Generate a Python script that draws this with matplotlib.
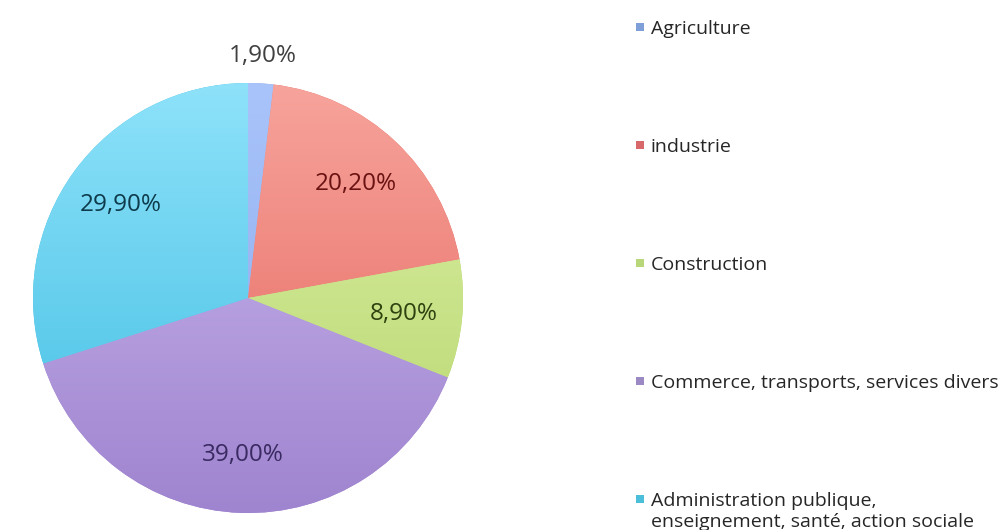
import numpy as np
import matplotlib
matplotlib.use("Agg")
import matplotlib.pyplot as plt
from matplotlib.colors import LinearSegmentedColormap
from matplotlib.patches import Rectangle

plt.rcParams['font.family'] = ['Open Sans', 'DejaVu Sans']

# Data
sectors = ['Agriculture', 'industrie', 'Construction',
           'Commerce, transports, services divers',
           'Administration publique,\nenseignement, santé, action sociale']
shares = [1.9, 20.2, 8.9, 39.0, 29.9]

# top / bottom colours of each slice gradient, legend swatch, label colour
top_colors = ['#a9c4fa', '#f7a49c', '#dcf0a8', '#cdbaf0', '#8ee2fa']
bottom_colors = ['#8aa8ec', '#e4625a', '#b6d66c', '#9f84cf', '#3fbde2']
swatch_colors = ['#7f9fd8', '#d9686a', '#b8d67a', '#9a89c2', '#4bbfd9']
label_colors = ['#404040', '#6a1212', '#2e4210', '#3a2a62', '#0e3b4c']

fig = plt.figure(figsize=(10.01, 5.30), dpi=100)
ax = fig.add_axes([0.03297, 0.03208, 0.42957, 0.8113])

wedges, _ = ax.pie(shares, startangle=90, counterclock=False,
                   colors=bottom_colors, radius=1.0,
                   wedgeprops=dict(linewidth=0))

# vertical gradient inside every slice
grad = np.linspace(0, 1, 256).reshape(-1, 1)
for w, c_top, c_bot in zip(wedges, top_colors, bottom_colors):
    cmap = LinearSegmentedColormap.from_list('g', [c_bot, c_top])
    im = ax.imshow(grad, extent=(-1, 1, -1, 1), origin='lower', cmap=cmap,
                   aspect='auto', zorder=2, interpolation='bicubic')
    im.set_clip_path(w)

# percentage labels
for i, (w, v) in enumerate(zip(wedges, shares)):
    ang = np.deg2rad((w.theta1 + w.theta2) / 2)
    r = 1.127 if v < 5 else 0.73
    ax.text(r * np.cos(ang), r * np.sin(ang), f"{v:.2f}%".replace('.', ','),
            ha='center', va='center', fontsize=17.5, color=label_colors[i],
            zorder=5)

ax.set_xlim(-1, 1)
ax.set_ylim(-1, 1)
ax.axis('off')

# legend on the right
fig_h = 530.0
for i, (name, col) in enumerate(zip(sectors, swatch_colors)):
    yc = 27 + 118 * i
    fig.patches.append(Rectangle((636 / 1001, 1 - (yc + 4) / fig_h),
                                 8 / 1001, 8 / fig_h,
                                 transform=fig.transFigure,
                                 facecolor=col, edgecolor='none'))
    for j, line in enumerate(name.split('\n')):
        fig.text(651 / 1001, 1 - (yc + 7 + 21 * j) / fig_h, line, ha='left',
                 va='baseline', fontsize=14, color='#262626')

fig.savefig('out.png', dpi=100)
